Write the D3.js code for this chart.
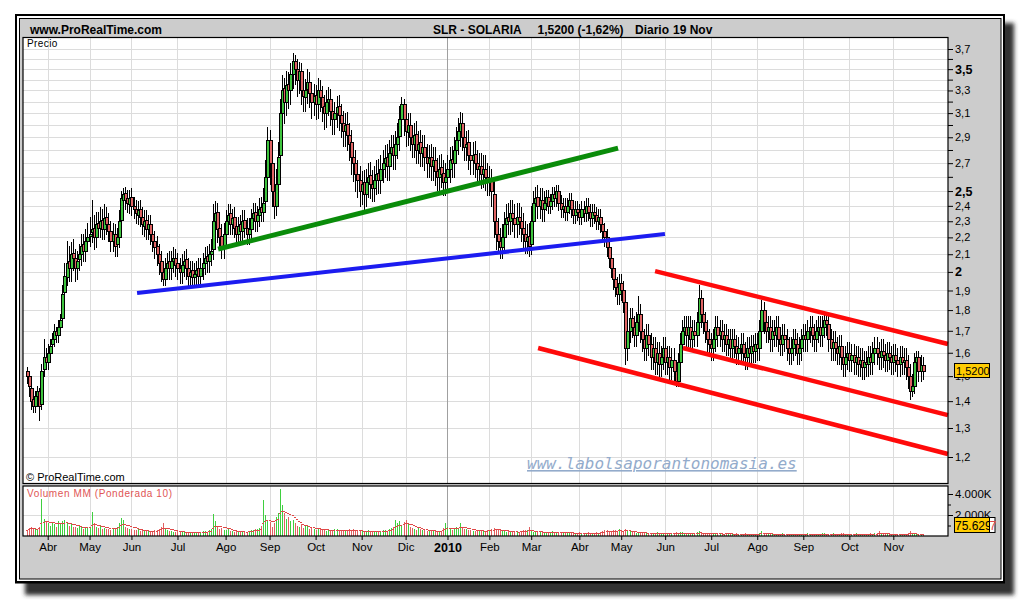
<!DOCTYPE html>
<html><head><meta charset="utf-8">
<script src="https://cdn.jsdelivr.net/npm/d3@7"></script>
<style>body{margin:0;background:#fff}svg{display:block}text{font-family:Arial,"Liberation Sans",sans-serif}text.wm{font-family:"DejaVu Sans Mono",monospace;font-style:oblique}</style>
</head><body><svg id="c" width="1020" height="600"></svg>
<script>
// ---------- DATA ----------
const startDate = [2009, 2, 18], endDate = [2010, 10, 19];
const holidays = ["2009-04-10","2009-04-13","2009-05-01","2009-12-24","2009-12-25","2009-12-31","2010-01-01","2010-04-02","2010-04-05"];
const monthNames = ["Ene","Feb","Mar","Abr","May","Jun","Jul","Ago","Sep","Oct","Nov","Dic"];

const openP = [
1.52,1.50,1.45,1.41,1.38,1.42,1.44,1.39,1.53,1.58,
1.56,1.60,1.64,1.66,1.70,1.68,1.72,1.76,1.89,1.97,
2.06,2.02,2.11,2.08,2.02,2.07,2.10,2.16,2.12,2.18,
2.21,2.23,2.26,2.20,2.29,2.26,2.31,2.25,2.33,2.28,
2.24,2.18,2.22,2.16,2.20,2.31,2.44,2.49,2.45,2.41,
2.46,2.40,2.38,2.34,2.38,2.33,2.27,2.31,2.25,2.28,
2.22,2.18,2.15,2.10,2.06,2.00,1.96,2.02,2.06,2.02,
2.06,2.08,2.05,2.02,2.00,2.04,2.07,2.02,1.98,2.01,
1.97,1.99,2.02,1.98,2.02,2.05,2.09,2.06,2.10,2.13,
2.30,2.36,2.26,2.21,2.14,2.22,2.30,2.35,2.28,2.33,
2.27,2.22,2.28,2.24,2.31,2.26,2.22,2.25,2.32,2.36,
2.30,2.34,2.39,2.36,2.43,2.60,2.88,2.70,2.50,2.40,
2.55,2.76,3.10,3.32,3.20,3.36,3.30,3.45,3.58,3.50,
3.40,3.48,3.30,3.24,3.31,3.38,3.28,3.20,3.26,3.18,
3.30,3.24,3.16,3.10,3.20,3.22,3.12,3.05,3.10,3.16,
3.08,3.02,2.95,3.01,2.92,2.86,2.75,2.70,2.62,2.58,
2.50,2.56,2.48,2.56,2.61,2.55,2.52,2.58,2.63,2.58,
2.66,2.70,2.75,2.68,2.78,2.82,2.76,2.85,2.91,3.05,
3.18,3.05,2.94,3.00,2.90,2.85,2.93,2.80,2.86,2.78,
2.82,2.75,2.70,2.75,2.68,2.72,2.64,2.60,2.67,
2.63,2.56,2.60,2.66,2.73,2.70,2.80,2.88,2.95,
3.02,2.90,2.82,2.86,2.76,2.72,2.77,2.70,2.66,2.68,
2.62,2.66,2.60,2.56,2.58,2.48,2.30,2.22,2.18,2.14,
2.20,2.28,2.33,2.30,2.35,2.32,2.28,2.33,2.30,2.26,
2.22,2.18,2.21,2.16,2.30,2.42,2.46,2.40,2.44,2.38,
2.42,2.46,2.40,2.43,2.48,2.45,2.50,2.42,2.38,2.40,
2.36,2.40,2.44,2.38,2.34,2.38,2.36,2.33,2.38,2.35,
2.40,2.36,2.32,2.36,2.34,2.30,2.33,2.28,2.24,2.20,
2.14,2.08,2.02,1.96,1.92,1.88,1.94,1.90,1.84,1.62,
1.70,1.76,1.72,1.68,1.74,1.78,1.70,1.66,1.62,1.68,
1.64,1.58,1.62,1.56,1.60,1.55,1.58,1.62,1.56,1.58,
1.54,1.57,1.52,1.48,1.56,1.64,1.70,1.72,1.68,1.72,
1.66,1.70,1.68,1.74,1.86,1.78,1.74,1.70,1.66,1.64,
1.62,1.66,1.72,1.68,1.70,1.66,1.68,1.64,1.66,1.62,
1.66,1.63,1.60,1.62,1.64,1.60,1.58,1.62,1.60,1.63,
1.61,1.64,1.62,1.70,1.80,1.74,1.70,1.72,1.66,1.70,
1.68,1.72,1.66,1.64,1.68,1.66,1.62,1.60,1.62,1.66,
1.64,1.60,1.62,1.66,1.68,1.66,1.70,1.72,1.68,1.66,
1.70,1.72,1.68,1.72,1.75,1.73,1.66,1.62,1.65,1.62,
1.60,1.63,1.58,1.55,1.58,1.60,1.57,1.59,1.56,1.58,
1.55,1.57,1.54,1.56,1.55,1.58,1.56,1.60,1.62,1.60,
1.58,1.61,1.59,1.57,1.60,1.58,1.56,1.59,1.57,1.55,
1.58,1.56,1.57,1.54,1.50,1.44,1.46,1.56,1.58,1.52,
1.545];

const highP = [
1.54,1.52,1.47,1.43,1.44,1.46,1.45,1.55,1.66,1.62,
1.64,1.66,1.69,1.73,1.72,1.75,1.78,1.93,2.05,2.18,
2.15,2.17,2.19,2.13,2.12,2.16,2.22,2.22,2.25,2.29,
2.33,2.44,2.34,2.36,2.36,2.39,2.38,2.41,2.39,2.35,
2.30,2.29,2.28,2.26,2.37,2.50,2.52,2.53,2.51,2.51,
2.52,2.46,2.44,2.43,2.44,2.39,2.37,2.37,2.34,2.34,
2.28,2.24,2.21,2.16,2.12,2.06,2.08,2.11,2.12,2.12,
2.14,2.13,2.11,2.08,2.10,2.12,2.13,2.08,2.06,2.06,
2.05,2.06,2.08,2.08,2.11,2.14,2.15,2.16,2.19,2.41,
2.43,2.42,2.33,2.28,2.29,2.37,2.41,2.41,2.38,2.39,
2.33,2.33,2.34,2.37,2.37,2.32,2.32,2.38,2.42,2.42,
2.40,2.45,2.46,2.52,2.72,2.98,2.96,2.80,2.60,2.66,
2.86,3.22,3.44,3.42,3.48,3.47,3.56,3.66,3.64,3.60,
3.57,3.56,3.40,3.41,3.50,3.47,3.38,3.36,3.35,3.42,
3.40,3.34,3.26,3.30,3.33,3.31,3.22,3.20,3.25,3.26,
3.18,3.12,3.10,3.11,3.02,2.96,2.86,2.80,2.72,2.68,
2.64,2.65,2.66,2.70,2.71,2.65,2.68,2.72,2.73,2.76,
2.80,2.84,2.85,2.88,2.92,2.92,2.95,3.02,3.16,3.24,
3.22,3.16,3.10,3.10,3.00,3.02,3.03,2.95,2.96,2.92,
2.92,2.85,2.84,2.85,2.82,2.82,2.74,2.76,2.77,
2.72,2.70,2.76,2.82,2.83,2.90,2.98,3.06,3.11,
3.10,3.00,2.95,2.96,2.86,2.86,2.87,2.80,2.78,2.78,
2.76,2.76,2.70,2.68,2.66,2.58,2.42,2.32,2.26,2.28,
2.36,2.41,2.42,2.44,2.44,2.41,2.42,2.42,2.39,2.35,
2.30,2.28,2.29,2.40,2.50,2.53,2.54,2.52,2.52,2.50,
2.51,2.51,2.48,2.53,2.53,2.54,2.54,2.47,2.45,2.45,
2.45,2.49,2.49,2.43,2.43,2.43,2.41,2.43,2.43,2.45,
2.45,2.41,2.41,2.41,2.39,2.38,2.38,2.33,2.29,2.25,
2.19,2.13,2.07,2.01,1.97,1.99,1.99,1.95,1.89,1.76,
1.81,1.81,1.77,1.79,1.87,1.83,1.75,1.71,1.73,1.73,
1.69,1.67,1.67,1.65,1.65,1.63,1.67,1.67,1.63,1.63,
1.62,1.62,1.57,1.60,1.69,1.75,1.77,1.77,1.77,1.77,
1.75,1.75,1.79,1.93,1.90,1.83,1.79,1.75,1.71,1.69,
1.71,1.77,1.77,1.75,1.75,1.73,1.73,1.71,1.71,1.71,
1.71,1.68,1.67,1.69,1.69,1.65,1.67,1.67,1.68,1.68,
1.69,1.69,1.75,1.85,1.84,1.79,1.77,1.77,1.75,1.75,
1.77,1.77,1.71,1.73,1.73,1.71,1.67,1.67,1.71,1.71,
1.69,1.67,1.71,1.73,1.73,1.75,1.77,1.77,1.73,1.75,
1.77,1.77,1.77,1.78,1.78,1.77,1.71,1.70,1.70,1.67,
1.68,1.68,1.63,1.63,1.65,1.65,1.64,1.64,1.63,1.63,
1.62,1.62,1.61,1.61,1.63,1.63,1.65,1.67,1.67,1.65,
1.66,1.66,1.64,1.65,1.65,1.63,1.64,1.64,1.62,1.63,
1.63,1.62,1.62,1.59,1.55,1.51,1.60,1.61,1.61,1.59,
1.58];

const lowP = [
1.47,1.42,1.37,1.36,1.36,1.40,1.33,1.37,1.50,1.53,
1.53,1.57,1.61,1.63,1.65,1.65,1.69,1.73,1.85,1.93,
1.95,1.95,2.01,1.95,1.96,2.01,2.04,2.06,2.06,2.12,
2.15,2.17,2.13,2.14,2.20,2.20,2.19,2.19,2.22,2.18,
2.12,2.12,2.09,2.09,2.14,2.25,2.38,2.38,2.36,2.35,
2.34,2.32,2.29,2.28,2.27,2.22,2.21,2.19,2.19,2.16,
2.12,2.08,2.04,1.99,1.95,1.93,1.93,1.96,1.96,1.96,
2.00,1.98,1.96,1.94,1.94,1.98,1.96,1.93,1.93,1.92,
1.92,1.93,1.92,1.92,1.96,1.99,2.00,2.00,2.04,2.07,
2.21,2.17,2.13,2.08,2.08,2.16,2.24,2.22,2.22,2.20,
2.16,2.16,2.18,2.18,2.20,2.16,2.16,2.19,2.26,2.24,
2.24,2.27,2.30,2.30,2.36,2.50,2.55,2.40,2.32,2.34,
2.46,2.66,2.96,3.02,3.08,3.14,3.18,3.32,3.36,3.25,
3.28,3.18,3.12,3.12,3.19,3.15,3.06,3.08,3.05,3.06,
3.12,3.03,2.97,2.98,3.08,3.00,2.93,2.93,2.98,2.96,
2.90,2.83,2.83,2.80,2.72,2.62,2.57,2.50,2.46,2.40,
2.41,2.38,2.40,2.46,2.45,2.43,2.43,2.48,2.49,2.49,
2.56,2.60,2.58,2.58,2.68,2.66,2.66,2.74,2.80,2.92,
2.92,2.83,2.84,2.80,2.75,2.75,2.70,2.70,2.68,2.68,
2.65,2.60,2.60,2.58,2.58,2.54,2.51,2.51,2.53,
2.47,2.47,2.50,2.56,2.60,2.60,2.70,2.77,2.83,
2.80,2.72,2.72,2.66,2.62,2.62,2.60,2.56,2.56,2.52,
2.53,2.51,2.47,2.47,2.40,2.20,2.13,2.11,2.08,2.08,
2.13,2.20,2.22,2.22,2.24,2.20,2.20,2.22,2.18,2.14,
2.11,2.11,2.09,2.10,2.22,2.34,2.32,2.32,2.30,2.30,
2.37,2.35,2.35,2.38,2.40,2.40,2.37,2.33,2.33,2.31,
2.31,2.35,2.33,2.29,2.29,2.31,2.28,2.28,2.30,2.30,
2.31,2.27,2.27,2.29,2.25,2.25,2.23,2.19,2.15,2.09,
2.03,1.97,1.91,1.87,1.83,1.83,1.85,1.79,1.55,1.57,
1.65,1.67,1.63,1.63,1.69,1.65,1.61,1.57,1.57,1.59,
1.53,1.53,1.51,1.51,1.50,1.50,1.53,1.51,1.51,1.49,
1.49,1.47,1.46,1.46,1.51,1.59,1.65,1.63,1.63,1.61,
1.61,1.63,1.63,1.69,1.72,1.69,1.65,1.61,1.59,1.57,
1.57,1.61,1.63,1.63,1.61,1.61,1.59,1.59,1.57,1.57,
1.58,1.55,1.55,1.57,1.55,1.53,1.53,1.55,1.55,1.56,
1.56,1.57,1.57,1.65,1.69,1.65,1.65,1.61,1.61,1.63,
1.63,1.61,1.59,1.59,1.61,1.57,1.55,1.55,1.57,1.59,
1.55,1.55,1.57,1.61,1.61,1.61,1.65,1.63,1.61,1.61,
1.65,1.63,1.63,1.67,1.68,1.61,1.57,1.57,1.57,1.55,
1.55,1.53,1.50,1.50,1.53,1.52,1.52,1.51,1.51,1.50,
1.50,1.49,1.49,1.50,1.50,1.51,1.51,1.55,1.55,1.53,
1.53,1.54,1.52,1.52,1.53,1.51,1.51,1.52,1.50,1.50,
1.51,1.51,1.49,1.45,1.41,1.42,1.43,1.51,1.48,1.48,
1.49];

const closeP = [
1.50,1.46,1.40,1.38,1.42,1.44,1.38,1.52,1.58,1.56,
1.60,1.63,1.66,1.70,1.68,1.72,1.75,1.88,1.98,2.05,
2.02,2.10,2.08,2.02,2.06,2.10,2.15,2.12,2.18,2.20,
2.22,2.25,2.20,2.28,2.26,2.30,2.25,2.32,2.28,2.24,
2.18,2.22,2.15,2.20,2.30,2.45,2.48,2.44,2.42,2.45,
2.40,2.38,2.35,2.37,2.33,2.28,2.30,2.25,2.28,2.22,
2.18,2.14,2.10,2.05,2.00,1.96,2.02,2.05,2.02,2.06,
2.08,2.04,2.02,2.00,2.04,2.06,2.02,1.98,2.00,1.97,
1.99,2.01,1.98,2.02,2.05,2.08,2.06,2.10,2.12,2.30,
2.35,2.25,2.20,2.14,2.22,2.30,2.34,2.28,2.32,2.26,
2.22,2.27,2.24,2.30,2.26,2.22,2.25,2.32,2.35,2.30,
2.34,2.38,2.36,2.42,2.60,2.88,2.70,2.50,2.40,2.55,
2.75,3.10,3.30,3.20,3.35,3.30,3.45,3.58,3.50,3.40,
3.48,3.30,3.25,3.30,3.38,3.28,3.20,3.25,3.18,3.30,
3.24,3.15,3.10,3.20,3.22,3.12,3.05,3.10,3.15,3.08,
3.02,2.95,3.00,2.92,2.85,2.75,2.70,2.62,2.58,2.50,
2.55,2.48,2.56,2.60,2.55,2.52,2.58,2.62,2.58,2.66,
2.70,2.74,2.68,2.78,2.82,2.76,2.85,2.90,3.05,3.18,
3.05,2.95,3.00,2.90,2.85,2.92,2.80,2.85,2.78,2.82,
2.75,2.70,2.74,2.68,2.72,2.64,2.60,2.66,2.62,
2.56,2.60,2.66,2.72,2.70,2.80,2.88,2.95,3.02,
2.90,2.82,2.85,2.76,2.72,2.76,2.70,2.66,2.68,2.62,
2.66,2.60,2.56,2.58,2.50,2.30,2.22,2.18,2.14,2.20,
2.28,2.32,2.30,2.35,2.32,2.28,2.33,2.30,2.26,2.22,
2.18,2.20,2.15,2.30,2.42,2.45,2.40,2.44,2.38,2.42,
2.46,2.40,2.43,2.48,2.45,2.50,2.42,2.38,2.40,2.36,
2.40,2.44,2.38,2.34,2.38,2.36,2.33,2.38,2.35,2.40,
2.36,2.32,2.36,2.34,2.30,2.33,2.28,2.24,2.20,2.14,
2.08,2.02,1.96,1.92,1.88,1.94,1.90,1.84,1.62,1.70,
1.76,1.72,1.68,1.74,1.78,1.70,1.66,1.62,1.68,1.64,
1.58,1.62,1.56,1.60,1.55,1.58,1.62,1.56,1.58,1.54,
1.57,1.52,1.48,1.56,1.64,1.70,1.72,1.68,1.72,1.66,
1.70,1.68,1.74,1.86,1.78,1.74,1.70,1.66,1.64,1.62,
1.66,1.72,1.68,1.70,1.66,1.68,1.64,1.66,1.62,1.66,
1.63,1.60,1.62,1.64,1.60,1.58,1.62,1.60,1.63,1.61,
1.64,1.62,1.70,1.80,1.74,1.70,1.72,1.66,1.70,1.68,
1.72,1.66,1.64,1.68,1.66,1.62,1.60,1.62,1.66,1.64,
1.60,1.62,1.66,1.68,1.66,1.70,1.72,1.68,1.66,1.70,
1.72,1.68,1.72,1.75,1.73,1.66,1.62,1.65,1.62,1.60,
1.63,1.58,1.55,1.58,1.60,1.57,1.59,1.56,1.58,1.55,
1.57,1.54,1.56,1.55,1.58,1.56,1.60,1.62,1.60,1.58,
1.61,1.59,1.57,1.60,1.58,1.56,1.59,1.57,1.55,1.58,
1.56,1.57,1.54,1.50,1.44,1.46,1.56,1.58,1.52,1.545,
1.52];

const volumeK = [
600,750,900,650,700,550,900,3500,1600,1400,
1200,1000,1300,1100,900,1400,1200,1450,1500,1300,
1000,1100,850,900,800,950,900,700,800,750,
850,2300,1200,900,800,950,700,800,650,700,
600,750,800,900,1200,1750,1500,900,800,700,
650,600,550,700,500,600,450,500,550,400,
500,600,550,700,900,1200,800,600,500,450,
400,350,450,400,350,500,300,400,350,300,
350,300,400,350,500,450,400,600,700,2060,
1400,900,700,800,600,550,650,500,450,400,
500,450,400,350,450,400,500,600,550,700,
650,800,1000,3420,2000,1500,1300,900,1200,1800,
2200,4470,3000,2200,1600,1800,1400,1500,1200,1000,
900,1100,800,950,1000,700,800,650,600,700,
750,600,650,500,550,450,500,650,700,600,
550,500,450,600,700,550,650,600,500,450,
500,400,450,550,400,500,450,400,500,450,
550,600,500,650,800,900,1500,1200,1400,1000,
1300,1500,1100,900,800,700,600,750,650,600,
550,500,450,600,500,550,400,450,500,
800,1200,900,700,600,650,900,800,1250,
900,700,650,550,600,500,450,550,600,500,
450,500,550,600,650,800,700,600,550,500,
450,400,500,450,400,350,450,400,500,600,
550,600,850,500,400,350,450,400,350,300,
400,350,300,450,400,350,300,400,350,300,
300,350,400,300,250,300,350,300,250,300,
350,300,250,300,350,300,400,500,550,600,
450,500,600,550,500,700,450,400,700,500,
450,400,350,300,400,350,300,350,300,250,
300,250,300,350,300,250,300,250,200,250,
300,250,350,300,400,350,300,250,300,250,
300,250,350,500,350,300,250,300,250,200,
250,300,250,200,250,200,300,250,200,250,
200,250,200,150,200,250,200,150,200,150,
200,150,300,450,300,250,200,250,200,150,
200,150,200,250,200,150,200,150,200,150,
200,150,200,150,200,250,200,150,200,150,
200,150,250,300,200,150,200,250,200,150,
200,250,300,200,150,200,150,200,250,150,
200,150,200,150,200,250,200,250,300,500,
250,200,150,200,250,200,150,200,150,200,
150,200,150,250,500,300,200,150,200,150,
76];

// price axis ticks (log scale)
const priceTicks = [3.7,3.6,3.5,3.4,3.3,3.2,3.1,3.0,2.9,2.8,2.7,2.6,2.5,2.4,2.3,2.2,2.1,2.0,1.9,1.8,1.7,1.6,1.5,1.4,1.3,1.2];
const priceLabelled = [3.7,3.5,3.3,3.1,2.9,2.7,2.5,2.4,2.3,2.2,2.1,2.0,1.9,1.8,1.7,1.6,1.5,1.4,1.3,1.2];
const priceBold = [3.5,2.5,2.0];
const volTicks = [1000,2000,3000,4000];
const volLabelled = [2000,4000];

// trend lines: [startIndex, startPrice, endIndex, endPrice, colour, width]
const trendLines = [
  [91.4, 2.13, 282.5, 2.815, "#0a8c0a", 5],
  [52.7, 1.887, 304.9, 2.22, "#1c1cf0", 4],
  [300.2, 2.004, 440.1, 1.639, "#ff0a0a", 4.5],
  [313.5, 1.621, 440.1, 1.347, "#ff0a0a", 4.5],
  [244.3, 1.621, 440.1, 1.21, "#ff0a0a", 4.5]
];
const headerLeft = "www.ProRealTime.com";
const headerParts = [["SLR - SOLARIA",433],["1,5200 (-1,62%)",537.5],["Diario",635],["19 Nov",673]];
const lastPriceLabel = "1,5200", lastPrice = 1.52;
const lastVolLabel = "75.629";

// ---------- BUILD ----------
const dates = [];
{ let d = new Date(Date.UTC(...startDate)); const end = new Date(Date.UTC(...endDate));
  while (d <= end) { const wd = d.getUTCDay(), s = d.toISOString().slice(0,10);
    if (wd !== 0 && wd !== 6 && !holidays.includes(s)) dates.push(new Date(d));
    d.setUTCDate(d.getUTCDate()+1); } }
const n = closeP.length;

const svg = d3.select("#c");
const P = {l:23, r:948, t:37.5, b:483.5};
const V = {t:486, b:536};

const x = d3.scaleLinear().domain([0, 428]).range([26.77, 922.6]);
const y = d3.scaleLog().domain([1.2, 3.7]).range([457, 49]);
const yv = d3.scaleLinear().domain([0, 4000]).range([V.b, V.b - 42]);

// shadow + frame
const defs = svg.append("defs");
defs.append("filter").attr("id","blur").attr("x","-5%").attr("y","-5%").attr("width","110%").attr("height","110%")
  .append("feGaussianBlur").attr("stdDeviation", 2);
svg.append("rect").attr("x",25).attr("y",23).attr("width",989).attr("height",572).attr("fill","#333").attr("filter","url(#blur)");
svg.append("rect").attr("x",15).attr("y",14).attr("width",990).attr("height",569.5).attr("fill","#000");
svg.append("rect").attr("x",17).attr("y",16).attr("width",986).attr("height",565).attr("fill","#fff");
svg.append("rect").attr("x",19).attr("y",18).attr("width",982.5).attr("height",561.5).attr("fill","#000");
svg.append("rect").attr("x",20).attr("y",19).attr("width",980.5).attr("height",559.5).attr("fill","#cccccc");

// header
svg.append("text").attr("x",30).attr("y",34).attr("font-size",12).attr("font-weight","bold").text(headerLeft);
svg.selectAll("text.hdr").data(headerParts).join("text").attr("class","hdr")
  .attr("x",d=>d[1]).attr("y",34).attr("font-size",12).attr("font-weight","bold").text(d=>d[0]);

// panels
svg.append("rect").attr("x",P.l).attr("y",P.t).attr("width",P.r-P.l).attr("height",P.b-P.t).attr("fill","#fff");
svg.append("rect").attr("x",P.l).attr("y",V.t).attr("width",P.r-P.l).attr("height",V.b-V.t).attr("fill","#fff");

// month boundaries
const monthIdx = [];
for (let i = 1; i < dates.length; i++) if (dates[i].getUTCMonth() !== dates[i-1].getUTCMonth()) monthIdx.push(i);
const monthLabel = i => dates[i].getUTCMonth() === 0 ? String(dates[i].getUTCFullYear()) : monthNames[dates[i].getUTCMonth()];
const isYear = i => dates[i].getUTCMonth() === 0;

// grids
const grid = svg.append("g").attr("shape-rendering","crispEdges");
grid.selectAll("line.h").data(priceTicks).join("line").attr("class","h")
  .attr("x1",P.l).attr("x2",P.r).attr("y1",d=>Math.round(y(d))+0.5).attr("y2",d=>Math.round(y(d))+0.5)
  .attr("stroke","#dcdcdc");
grid.selectAll("line.vh").data([2000]).join("line").attr("class","vh")
  .attr("x1",P.l).attr("x2",P.r).attr("y1",d=>Math.round(yv(d))+0.5).attr("y2",d=>Math.round(yv(d))+0.5)
  .attr("stroke","#dcdcdc");
[[P.t,P.b],[V.t,V.b]].forEach(([t,b],k)=>{
  grid.selectAll("line.v"+k).data(monthIdx).join("line").attr("class","v"+k)
    .attr("x1",d=>Math.round(x(d))+0.5).attr("x2",d=>Math.round(x(d))+0.5).attr("y1",t).attr("y2",b)
    .attr("stroke",d=>isYear(d)?"#a0a0a0":"#dcdcdc");
});

// labels in panels
svg.append("text").attr("x",27).attr("y",47).attr("font-size",10).attr("letter-spacing",0.4).text("Precio");
svg.append("text").attr("x",26).attr("y",481).attr("font-size",11).text("\u00a9 ProRealTime.com");
svg.append("text").attr("x",27).attr("y",497).attr("font-size",10).attr("letter-spacing",0.6).attr("fill","#e05555").text("Volumen MM (Ponderada 10)");

// watermark
svg.append("text").attr("class","wm").attr("x",527).attr("y",469)
  .attr("font-size",16).attr("fill","#93abcb").attr("text-decoration","underline").text("www.labolsaporantonomasia.es");

// candles
const cg = svg.append("g").attr("shape-rendering","crispEdges");
const idx = d3.range(n);
const cx = i => Math.round(x(i)) - 1;
cg.selectAll("line.w").data(idx).join("line").attr("class","w")
  .attr("x1",i=>cx(i)+1.5).attr("x2",i=>cx(i)+1.5)
  .attr("y1",i=>Math.round(y(highP[i]))).attr("y2",i=>Math.round(y(lowP[i]))+1)
  .attr("stroke","#000").attr("stroke-width",1);
cg.selectAll("rect.b").data(idx).join("rect").attr("class","b")
  .attr("x",i=>cx(i)+0.5).attr("width",3)
  .attr("y",i=>Math.round(y(Math.max(openP[i],closeP[i])))+0.5)
  .attr("height",i=>Math.max(1, Math.round(y(Math.min(openP[i],closeP[i]))) - Math.round(y(Math.max(openP[i],closeP[i])))))
  .attr("fill",i=>closeP[i]>=openP[i]?"#3fc43f":"#e06464")
  .attr("stroke","#000").attr("stroke-width",1);

// trend lines
svg.append("g").selectAll("line").data(trendLines).join("line")
  .attr("x1",d=>x(d[0])).attr("y1",d=>y(d[1])).attr("x2",d=>x(d[2])).attr("y2",d=>y(d[3]))
  .attr("stroke",d=>d[4]).attr("stroke-width",d=>d[5]);

// volume
const vg = svg.append("g").attr("shape-rendering","crispEdges");
vg.selectAll("rect").data(idx).join("rect")
  .attr("x",i=>Math.round(x(i))).attr("width",1)
  .attr("y",i=>Math.round(yv(volumeK[i]))).attr("height",i=>V.b-Math.round(yv(volumeK[i])))
  .attr("fill",i=>(i===0?closeP[i]>=openP[i]:closeP[i]>=closeP[i-1])?"#3fcf3f":"#e06060");
const wma = idx.map(i=>{ let s=0,w=0; for(let k=0;k<10&&i-k>=0;k++){ s+=(10-k)*volumeK[i-k]; w+=10-k; } return s/w; });
vg.selectAll("line").data(idx).join("line")
  .attr("x1",i=>Math.round(x(i))-1).attr("x2",i=>Math.round(x(i))+1)
  .attr("y1",i=>Math.round(yv(wma[i]))+0.5).attr("y2",i=>Math.round(yv(wma[i]))+0.5)
  .attr("stroke","#e04848");

// panel borders
svg.append("rect").attr("x",P.l).attr("y",P.t).attr("width",P.r-P.l).attr("height",P.b-P.t).attr("fill","none").attr("stroke","#000").attr("stroke-width",1.2);
svg.append("rect").attr("x",P.l).attr("y",V.t).attr("width",P.r-P.l).attr("height",V.b-V.t).attr("fill","none").attr("stroke","#000").attr("stroke-width",1.2);

// price axis
const fmtP = d => String(d).replace(".", ",");
const ay = svg.append("g").attr("transform",`translate(${P.r},0)`)
  .call(d3.axisRight(y).tickValues(priceTicks).tickSize(5).tickPadding(2)
    .tickFormat(d=>priceLabelled.includes(d)?fmtP(d):""));
ay.select(".domain").remove();
ay.selectAll("text").attr("font-size",11).attr("fill","#000")
  .filter(d=>priceBold.includes(d)).attr("font-weight","bold").attr("font-size",12.5);
ay.selectAll("line").attr("stroke","#000");

// volume axis
const vfmt = d3.formatLocale({decimal:",",thousands:".",grouping:[3],currency:["",""]}).format(",");
const av = svg.append("g").attr("transform",`translate(${P.r},0)`)
  .call(d3.axisRight(yv).tickValues(volTicks).tickSize(5).tickPadding(2)
    .tickFormat(d=>volLabelled.includes(d)?vfmt(d)+"K":""));
av.select(".domain").remove();
av.selectAll("text").attr("font-size",11.5).attr("fill","#000");
av.selectAll(".tick line").attr("stroke","#000").attr("x2",d=>volLabelled.includes(d)?5:3);

// x axis
const ax = svg.append("g").attr("transform",`translate(0,${V.b})`)
  .call(d3.axisBottom(x).tickValues(monthIdx).tickSize(4).tickPadding(3).tickFormat(monthLabel));
ax.select(".domain").remove();
ax.selectAll("line").attr("stroke","#000");
ax.selectAll("text").attr("font-size",11.5).attr("fill","#000")
  .filter(d=>isYear(d)).attr("font-weight","bold").attr("font-size",12.5);

// last price label
const lp = svg.append("g");
const ly = y(lastPrice);
lp.append("rect").attr("x",954.5).attr("y",Math.round(ly)-7.5).attr("width",35).attr("height",14).attr("fill","#ffcc00").attr("stroke","#000");
lp.append("text").attr("x",956).attr("y",Math.round(ly)+4).attr("font-size",11).text(lastPriceLabel);
// last volume label
const lv = svg.append("g");
lv.append("rect").attr("x",954.5).attr("y",517.5).attr("width",35).attr("height",15).attr("fill","#ffcc00").attr("stroke","#000");
lv.append("text").attr("x",955).attr("y",529.5).attr("font-size",12).text(lastVolLabel);
lv.append("rect").attr("x",989.5).attr("y",517.5).attr("width",5.5).attr("height",15).attr("fill","#fff").attr("stroke","#000");
lv.append("text").attr("x",989.5).attr("y",529.5).attr("font-size",12).attr("fill","#e04848").text("7");
</script></body></html>
